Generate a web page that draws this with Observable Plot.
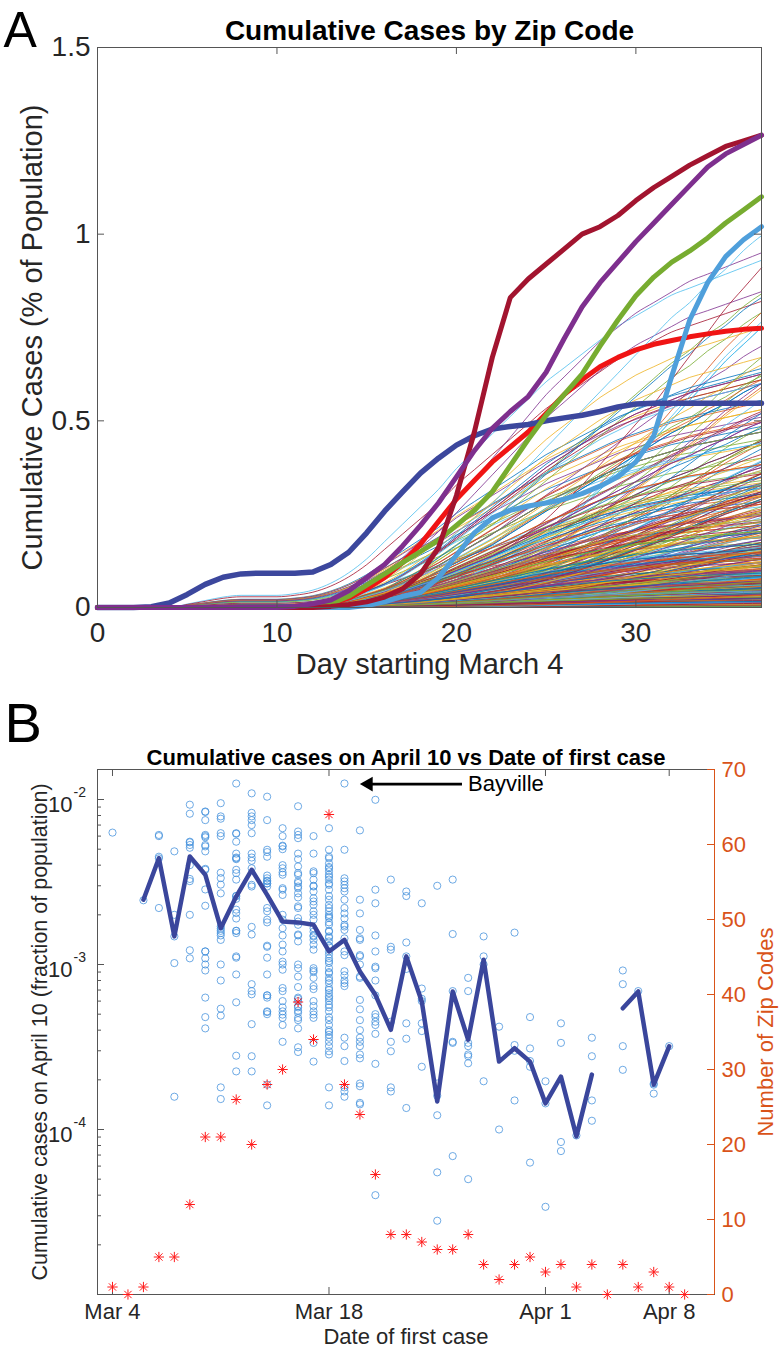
<!DOCTYPE html>
<html><head><meta charset="utf-8">
<script src="https://cdn.jsdelivr.net/npm/d3@7"></script>
<script src="https://cdn.jsdelivr.net/npm/@observablehq/plot@0.6"></script>
<style>
html,body{margin:0;padding:0;background:#fff;}
#wrap{position:relative;width:782px;height:1356px;overflow:hidden;}
#wrap svg{position:absolute;left:0;}
</style></head><body><div id="wrap"></div>
<script>
// ---------------- DATA ----------------
// Panel A: days since March 4
const days = d3.range(38);
// Highlighted zip codes (cumulative % of population per day 0..37)
const navyZip = [0,0,0,0.002,0.012,0.035,0.062,0.081,0.09,0.092,0.092,0.092,0.095,0.115,0.148,0.2,0.258,0.31,0.36,0.4,0.435,0.46,0.478,0.485,0.49,0.5,0.508,0.515,0.525,0.537,0.545,0.547,0.547,0.547,0.547,0.547,0.547,0.547];
const bayvilleZip = [0,0,0,0,0,0,0,0,0,0,0,0,0,0.003,0.008,0.015,0.028,0.05,0.09,0.16,0.3,0.47,0.67,0.83,0.88,0.92,0.96,1.0,1.02,1.05,1.09,1.125,1.155,1.185,1.21,1.235,1.25,1.265];
const purpleZip = [0,0,0,0,0,0,0,0,0,0,0,0.003,0.01,0.02,0.045,0.08,0.115,0.165,0.22,0.28,0.35,0.42,0.48,0.525,0.565,0.63,0.72,0.805,0.87,0.925,0.98,1.03,1.08,1.13,1.18,1.215,1.24,1.265];
const greenZip = [0,0,0,0,0,0,0,0,0,0,0,0,0.003,0.01,0.03,0.06,0.09,0.12,0.15,0.18,0.22,0.26,0.31,0.38,0.45,0.515,0.57,0.625,0.7,0.77,0.835,0.885,0.925,0.955,0.99,1.03,1.065,1.1];
const redZip = [0,0,0,0,0,0,0,0,0,0,0,0,0.003,0.01,0.025,0.05,0.08,0.12,0.17,0.23,0.29,0.34,0.39,0.43,0.47,0.52,0.57,0.61,0.645,0.67,0.69,0.705,0.715,0.725,0.733,0.74,0.745,0.748];
const lightBlueZip = [0,0,0,0,0,0,0,0,0,0,0,0,0,0,0,0.005,0.015,0.03,0.04,0.08,0.14,0.2,0.24,0.26,0.272,0.28,0.29,0.305,0.325,0.35,0.39,0.46,0.62,0.77,0.87,0.94,0.985,1.02];
// Typical growth shapes of the thin lines (fraction of the April 10 value reached by each day)
const growthEarly = [0,0,0,0,0,0.01,0.02,0.03,0.035,0.035,0.035,0.04,0.05,0.07,0.1,0.14,0.19,0.24,0.29,0.34,0.4,0.45,0.5,0.55,0.6,0.65,0.69,0.73,0.77,0.81,0.84,0.87,0.9,0.92,0.94,0.96,0.98,1];
const growthSaturating = [0,0,0,0,0,0,0,0,0,0,0,0,0.01,0.02,0.04,0.07,0.1,0.14,0.19,0.24,0.3,0.36,0.42,0.48,0.54,0.6,0.65,0.7,0.75,0.79,0.83,0.86,0.89,0.92,0.94,0.96,0.98,1];
const growthSteady = [0,0,0,0,0,0,0,0,0,0,0,0,0,0.01,0.02,0.04,0.06,0.09,0.12,0.16,0.2,0.24,0.28,0.33,0.38,0.43,0.48,0.53,0.58,0.63,0.68,0.73,0.78,0.82,0.87,0.91,0.96,1];
const growthLate = [0,0,0,0,0,0,0,0,0,0,0,0,0,0,0,0.01,0.02,0.03,0.05,0.07,0.09,0.12,0.15,0.18,0.22,0.26,0.31,0.36,0.42,0.48,0.54,0.6,0.67,0.74,0.81,0.88,0.94,1];
const highlightedMin = 0.0104; // zip codes at or above this are the thick highlighted lines
const matlabColors = ["#0072BD","#D95319","#EDB120","#7E2F8E","#77AC30","#4DBEEE","#A2142F"];
const xTicksA = [0,10,20,30];
const yTicksA = [0,0.5,1,1.5];

// Panel B: cumulative cases on April 10 (fraction), grouped by day of first case (0 = Mar 4)
const aprilTenByFirstDay = [
 [6.3e-3],
 [],
 [2.45e-3],
 [6.1e-3,6.0e-3,4.5e-3,4.4e-3,2.2e-3],
 [4.85e-3,2.0e-3,1.48e-3,1.02e-3,1.58e-4],
 [9.3e-3,8.2e-3,5.55e-3,5.5e-3,5.3e-3,5.1e-3,4.0e-3,3.3e-3,3.2e-3,2.0e-3,1.22e-3,1.09e-3],
 [8.46e-3,8.4e-3,7.5e-3,6.1e-3,6.0e-3,5.9e-3,5.3e-3,5.2e-3,4.85e-3,3.8e-3,3.75e-3,2.85e-3,2.27e-3,1.2e-3,1.2e-3,1.09e-3,1.0e-3,9.2e-4,6.3e-4,4.8e-4,4.1e-4],
 [9.5e-3,7.9e-3,7.65e-3,6.25e-3,6.0e-3,3.6e-3,3.34e-3,3.05e-3,2.7e-3,1.7e-3,1.65e-3,1.6e-3,1.55e-3,1.5e-3,1.41e-3,1.0e-3,8.0e-4,5.4e-4,4.9e-4,1.8e-4,1.53e-4],
 [1.25e-2,6.25e-3,6.2e-3,5.55e-3,4.7e-3,4.45e-3,4.4e-3,4.35e-3,3.75e-3,3.58e-3,3.27e-3,2.6e-3,2.6e-3,2.5e-3,2.15e-3,2.05e-3,1.9e-3,1.6e-3,1.6e-3,1.55e-3,1.12e-3,1.1e-3,8.7e-4,5.9e-4,2.8e-4,2.25e-4],
 [1.09e-2,8.3e-3,7.9e-3,7.5e-3,7.0e-3,6.25e-3,4.7e-3,4.45e-3,4.25e-3,3.83e-3,3.04e-3,2.97e-3,1.69e-3,1.52e-3,7.6e-4,6.9e-4,6.6e-4,4.35e-4,2.78e-4,2.25e-4],
 [1.04e-2,7.5e-3,4.96e-3,4.8e-3,4.5e-3,3.46e-3,3.33e-3,3.22e-3,3.2e-3,3.1e-3,3.1e-3,2.97e-3,2.2e-3,2.1e-3,1.87e-3,1.8e-3,1.3e-3,1.28e-3,1.1e-3,8.7e-4,6.5e-4,6.5e-4,6.3e-4,5.2e-4,5.15e-4,5.0e-4,1.87e-4,1.4e-4],
 [6.7e-3,6.0e-3,5.25e-3,5.2e-3,5.0e-3,4.0e-3,3.83e-3,3.62e-3,3.5e-3,2.9e-3,2.84e-3,2.64e-3,2.0e-3,1.87e-3,1.66e-3,1.5e-3,1.32e-3,1.2e-3,1.04e-3,1.0e-3,9.3e-4,7.2e-4,6.9e-4,6.0e-4,5.5e-4,5.2e-4,4.97e-4,4.75e-4,4.3e-4,3.4e-4],
 [9.1e-3,6.4e-3,6.1e-3,5.83e-3,4.7e-3,4.35e-3,3.93e-3,3.58e-3,3.5e-3,3.19e-3,3.12e-3,2.97e-3,2.9e-3,2.7e-3,2.55e-3,2.25e-3,2.2e-3,1.91e-3,1.82e-3,1.74e-3,1.52e-3,1.5e-3,1.38e-3,1.0e-3,9.5e-4,8.45e-4,7.3e-4,6.3e-4,6.2e-4,6.0e-4,5.6e-4,5.5e-4,5.25e-4,5.1e-4,4.75e-4,4.6e-4,4.1e-4,3.15e-4,2.95e-4],
 [6.0e-3,4.7e-3,3.67e-3,3.58e-3,3.27e-3,3.0e-3,2.97e-3,2.77e-3,2.52e-3,2.41e-3,2.3e-3,2.1e-3,2.0e-3,1.87e-3,1.66e-3,1.58e-3,1.5e-3,1.48e-3,1.41e-3,1.32e-3,1.23e-3,9.5e-4,9.2e-4,9.0e-4,8.3e-4,7.4e-4,7.1e-4,6.0e-4,5.6e-4,5.2e-4,4.97e-4,4.75e-4,3.35e-4,2.58e-4],
 [6.7e-3,4.96e-3,4.5e-3,4.4e-3,4.1e-3,3.9e-3,3.83e-3,3.67e-3,3.5e-3,3.4e-3,3.27e-3,3.1e-3,3.04e-3,2.84e-3,2.6e-3,2.47e-3,2.3e-3,2.2e-3,2.1e-3,2.0e-3,1.95e-3,1.91e-3,1.8e-3,1.74e-3,1.6e-3,1.58e-3,1.48e-3,1.45e-3,1.38e-3,1.3e-3,1.29e-3,1.2e-3,1.15e-3,1.09e-3,1.05e-3,1.02e-3,9.5e-4,9.0e-4,8.85e-4,8.3e-4,8.0e-4,7.7e-4,7.2e-4,7.0e-4,6.7e-4,6.4e-4,6.25e-4,6.0e-4,5.7e-4,5.5e-4,5.2e-4,4.8e-4,4.6e-4,4.3e-4,4.0e-4,3.9e-4,3.75e-4,3.6e-4,3.4e-4,3.2e-4,2.98e-4,2.85e-4,1.8e-4,1.4e-4],
 [1.25e-2,4.96e-3,3.33e-3,3.19e-3,3.04e-3,2.9e-3,2.77e-3,2.47e-3,2.2e-3,2.04e-3,1.9e-3,1.74e-3,1.7e-3,1.62e-3,1.44e-3,1.2e-3,1.14e-3,9.1e-4,8.6e-4,8.0e-4,7.7e-4,7.4e-4,3.6e-4,3.2e-4,2.6e-4,1.8e-4,1.7e-4,1.58e-4],
 [6.5e-3,2.47e-3,2.04e-3,1.62e-3,1.44e-3,1.41e-3,1.14e-3,1.12e-3,1.0e-3,8.45e-4,8.3e-4,6.1e-4,5.35e-4,4.6e-4,4.0e-4,3.6e-4,3.4e-4,3.2e-4,2.85e-4,2.7e-4,1.9e-4,1.83e-4,1.45e-4,1.42e-4],
 [9.96e-3,2.84e-3,2.35e-3,1.5e-3,1.2e-3,9.7e-4,9.5e-4,8.0e-4,6.5e-4,5.0e-4,4.8e-4,4.5e-4,4.3e-4,3.8e-4,2.5e-4,4.0e-5],
 [3.27e-3,1.28e-3,1.23e-3,4.5e-4,3.4e-4,2.98e-4,1.8e-4,1.7e-4],
 [2.77e-3,2.6e-3,1.36e-3,1.12e-3,9.4e-4,4.4e-4,3.55e-4,1.35e-4],
 [2.35e-3,7.15e-4,6.2e-4,6.0e-4,4.4e-4,3.95e-4,2.4e-4],
 [3.0e-3,1.9e-4,1.6e-4,1.22e-4,5.5e-5,2.8e-5],
 [3.27e-3,1.53e-3,6.9e-4,3.4e-4,3.35e-4,6.9e-5],
 [8.3e-4,6.9e-4,3.35e-4,3.2e-4,2.85e-4,2.78e-4,2.52e-4,5.0e-5],
 [1.48e-3,1.12e-3,1.0e-3,1.96e-4],
 [4.2e-4,1.0e-4],
 [1.56e-3,3.25e-4,3.0e-4,1.5e-4],
 [4.8e-4,3.1e-4,2.6e-4,2.4e-4,6.3e-5],
 [1.96e-4,1.44e-4,3.4e-5],
 [4.4e-4,3.35e-4,8.4e-5,7.4e-5],
 [9.2e-5],
 [3.6e-4,2.78e-4,1.5e-4,1.13e-4],
 [],
 [9.2e-4,7.6e-4,3.2e-4,2.3e-4],
 [6.9e-4],
 [1.9e-4,1.87e-4,1.65e-4],
 [3.2e-4],
 []
];
const medianByDay = [null,null,2.47e-3,4.41e-3,1.48e-3,4.52e-3,3.5e-3,1.66e-3,2.58e-3,3.75e-3,2.64e-3,1.82e-3,1.8e-3,1.74e-3,1.2e-3,1.41e-3,9.08e-4,6.55e-4,4.02e-4,1.12e-3,5.97e-4,1.48e-4,6.86e-4,3.5e-4,1.07e-3,2.58e-4,3.11e-4,2.58e-4,1.44e-4,2.09e-4,9.09e-5,2.15e-4,null,5.43e-4,6.86e-4,1.87e-4,3.19e-4,null];
const zipCountByDay = [1,0,1,5,5,12,21,21,26,20,28,30,39,34,64,28,24,16,8,8,7,6,6,8,4,2,4,5,3,4,1,4,0,4,1,3,1,0];
const xTicksB = [0,14,28,36];
const xTickLabelsB = ["Mar 4","Mar 18","Apr 1","Apr 8"];
const yTicksB = [1e-2,1e-3,1e-4];
const yTicksRight = [0,10,20,30,40,50,60,70];
const bayvilleNote = [{fromDay:22.6, toDay:16.1, value:0.0124, label:"Bayville"}];

// ---------------- RENDER ----------------
const FONT = '"Liberation Sans", Arial, Helvetica, sans-serif';
const INK = "#262626", AXIS = "#555";
const ORANGE = "#D95319";
const wrap = document.getElementById("wrap");

// ---- Panel A ----
const A = {w:782, h:700, top:47, right:21, bottom:93, left:97};
const aFW = A.w - A.left - A.right, aFH = A.h - A.top - A.bottom;
const thinRows = [];
let zi = 0;
aprilTenByFirstDay.forEach((vals, f) => vals.forEach(v => {
  if (v >= highlightedMin) return;
  const i = zi++;
  const prof = f <= 5 ? growthEarly : [growthSaturating, growthSteady, growthLate][i % 3];
  for (const d of days) thinRows.push({id:i, day:d, pct:v*100*prof[d], color:matlabColors[i % 7]});
}));
const thick = [
  {values:redZip, color:"#F01414", w:5},
  {values:lightBlueZip, color:"#4F9FDB", w:5},
  {values:navyZip, color:"#3C479D", w:5.5},
  {values:greenZip, color:"#77AC30", w:5},
  {values:bayvilleZip, color:"#A2142F", w:5},
  {values:purpleZip, color:"#7E2F8E", w:5}
];
const plotA = Plot.plot({
  width:A.w, height:A.h, marginTop:A.top, marginRight:A.right, marginBottom:A.bottom, marginLeft:A.left,
  style:{fontFamily:FONT, fontSize:"28px", color:INK, background:"transparent", overflow:"visible"},
  x:{domain:[0,37], axis:null}, y:{domain:[0,1.5], axis:null}, color:{type:"identity"},
  marks:[
    Plot.line(thinRows, {x:"day", y:"pct", z:"id", stroke:"color", strokeWidth:0.8, curve:"monotone-x"}),
    ...thick.map(t => Plot.line(days, {x:d=>d, y:d=>t.values[d], stroke:t.color, strokeWidth:t.w, strokeLinejoin:"round"})),
    Plot.frame({stroke:AXIS, strokeWidth:1}),
    Plot.tickX(xTicksA, {x:d=>d, stroke:AXIS, insetTop:aFH-7}),
    Plot.tickX(xTicksA, {x:d=>d, stroke:AXIS, insetBottom:aFH-7}),
    Plot.tickY(yTicksA, {y:d=>d, stroke:AXIS, insetRight:aFW-7}),
    Plot.tickY(yTicksA, {y:d=>d, stroke:AXIS, insetLeft:aFW-7}),
    Plot.axisX({ticks:xTicksA, tickSize:0, tickPadding:15, fontSize:28, label:null}),
    Plot.axisY({ticks:yTicksA, tickSize:0, tickPadding:7, fontSize:28, label:null, tickFormat:d=>String(d)}),
    Plot.text(["Day starting March 4"], {text:d=>d, frameAnchor:"bottom", dy:66, fontSize:29, fill:INK}),
    Plot.text(["Cumulative Cases (% of Population)"], {text:d=>d, frameAnchor:"left", textAnchor:"middle", rotate:-90, dx:-65, dy:10, fontSize:29, fill:INK}),
    Plot.text(["Cumulative Cases by Zip Code"], {text:d=>d, frameAnchor:"top", textAnchor:"middle", dy:-27, fontSize:28, fontWeight:"bold", fill:"#000"}),
    Plot.text(["A"], {text:d=>d, frameAnchor:"top-left", dx:-94, dy:-36, fontSize:50, textAnchor:"start", lineAnchor:"top", fill:"#000"})
  ]
});
plotA.style.top = "0px";
wrap.appendChild(plotA);

// ---- Panel B ----
const B = {w:782, h:656, top:69, right:68, bottom:62, left:97};
const bFW = B.w - B.left - B.right, bFH = B.h - B.top - B.bottom;
const xDomainB = [-0.97, 38.93];
const yDomainB = [1e-5, 0.0152];
const circleRows = aprilTenByFirstDay.flatMap((vals, f) => vals.map(v => ({day:f, v})));
const minorB = [1e-5,1e-4,1e-3].flatMap(p => d3.range(2,10).map(k => k*p)).filter(v => v < yDomainB[1]);
const expLabel = v => "-" + Math.round(-Math.log10(v));

const plotB = Plot.plot({
  width:B.w, height:B.h, marginTop:B.top, marginRight:B.right, marginBottom:B.bottom, marginLeft:B.left,
  style:{fontFamily:FONT, fontSize:"22px", color:INK, background:"transparent", overflow:"visible"},
  x:{domain:xDomainB, axis:null}, y:{type:"log", domain:yDomainB, axis:null},
  marks:[
    Plot.dot(circleRows, {x:"day", y:"v", r:3.6, stroke:"#3F8EDB", strokeWidth:0.75, fill:"none"}),
    Plot.line(days, {x:d=>d, y:d=>medianByDay[d] ?? NaN, stroke:"#3A469C", strokeWidth:4.5, strokeLinejoin:"round"}),
    Plot.link(bayvilleNote, {x1:"fromDay", x2:d=>d.toDay + 0.6, y1:"value", y2:"value", stroke:"#000", strokeWidth:2.6}),
    Plot.dot(bayvilleNote, {x:d=>d.toDay + 0.45, y:"value", symbol:"triangle", rotate:-90, r:5.5, fill:"#000", stroke:"none"}),
    Plot.text(bayvilleNote, {x:"fromDay", y:"value", text:"label", textAnchor:"start", dx:6, fontSize:22, fill:"#000"}),
    Plot.frame({stroke:AXIS, strokeWidth:1}),
    Plot.tickX(xTicksB, {x:d=>d, stroke:AXIS, insetTop:bFH-7}),
    Plot.tickX(xTicksB, {x:d=>d, stroke:AXIS, insetBottom:bFH-7}),
    Plot.tickY(yTicksB, {y:d=>d, stroke:AXIS, insetRight:bFW-7}),
    Plot.tickY(minorB, {y:d=>d, stroke:AXIS, insetRight:bFW-4}),
    Plot.axisX({ticks:xTicksB, tickSize:0, tickPadding:9, fontSize:22, label:null, tickFormat:d=>xTickLabelsB[xTicksB.indexOf(d)]}),
    Plot.text(yTicksB, {y:d=>d, text:()=>"10", frameAnchor:"left", textAnchor:"end", dx:-25, dy:5, fontSize:22, fill:INK}),
    Plot.text(yTicksB, {y:d=>d, text:expLabel, frameAnchor:"left", textAnchor:"start", dx:-24, dy:-7, fontSize:14, fill:INK}),
    Plot.text(["Date of first case"], {text:d=>d, frameAnchor:"bottom", dy:49, fontSize:22, fill:INK}),
    Plot.text(["Cumulative cases on April 10 (fraction of population)"], {text:d=>d, frameAnchor:"left", textAnchor:"middle", rotate:-90, dx:-57, fontSize:21.5, fill:INK}),
    Plot.text(["Cumulative cases on April 10 vs Date of first case"], {text:d=>d, frameAnchor:"top", textAnchor:"middle", dy:-20, fontSize:22, fontWeight:"bold", fill:"#000"}),
    Plot.text(["B"], {text:d=>d, frameAnchor:"top-left", dx:-93, dy:-67, fontSize:56, textAnchor:"start", lineAnchor:"top", fill:"#000"})
  ]
});
plotB.style.top = "700px";
wrap.appendChild(plotB);

const starRows = zipCountByDay.map((n, d) => ({day:d, n}));
const plotB2 = Plot.plot({
  width:B.w, height:B.h, marginTop:B.top, marginRight:B.right, marginBottom:B.bottom, marginLeft:B.left,
  style:{fontFamily:FONT, fontSize:"22px", color:ORANGE, background:"transparent", overflow:"visible"},
  x:{domain:xDomainB, axis:null}, y:{domain:[0,70], axis:null},
  marks:[
    Plot.dot(starRows, {x:"day", y:"n", symbol:"plus", r:3.4, stroke:"#FF1A1A", strokeWidth:1}),
    Plot.dot(starRows, {x:"day", y:"n", symbol:"times", r:3.4, stroke:"#FF1A1A", strokeWidth:1}),
    Plot.ruleX([xDomainB[1]], {stroke:ORANGE, strokeWidth:1}),
    Plot.tickY(yTicksRight, {y:d=>d, stroke:ORANGE, insetLeft:bFW-7}),
    Plot.axisY({ticks:yTicksRight, anchor:"right", tickSize:0, tickPadding:7, fontSize:22, label:null, fill:ORANGE}),
    Plot.text(["Number of Zip Codes"], {text:d=>d, frameAnchor:"right", textAnchor:"middle", rotate:-90, dx:51, fontSize:22, fill:ORANGE})
  ]
});
plotB2.style.top = "700px";
wrap.appendChild(plotB2);
</script>
</body></html>
